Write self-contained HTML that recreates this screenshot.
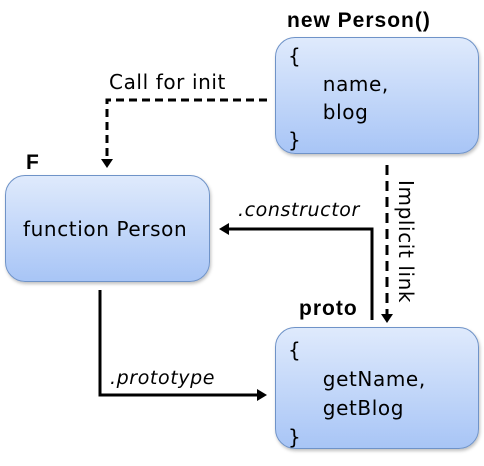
<!DOCTYPE html>
<html><head><style>
body{margin:0;width:484px;height:466px;background:#fff;font-family:"DejaVu Sans","Liberation Sans",sans-serif;overflow:hidden}
.box{position:absolute;box-sizing:border-box;border:1.5px solid #6f93c8;border-radius:20px;background:linear-gradient(#dfeafc,#a8c5f6);box-shadow:1px 2px 3px rgba(0,0,0,.25);font-size:20px;color:#000}
.t{position:absolute;font-size:20px;white-space:nowrap;letter-spacing:0.6px}
.b{font-weight:bold;font-family:"Liberation Sans",sans-serif;font-size:21px;letter-spacing:1px}
</style></head><body>
<svg width="484" height="466" style="position:absolute;left:0;top:0">
<g stroke="#000" stroke-width="3" fill="none">
<path d="M267 100 H107 V160" stroke-dasharray="8,5"/>
<path d="M387 165 V318" stroke-dasharray="10,6"/>
<path d="M372 320 V229 H228"/>
<path d="M100 290 V395 H258"/>
</g>
<g fill="#000">
<polygon points="101,159 113,159 107,168"/>
<polygon points="381,314 393,314 387,323"/>
<polygon points="229,223 229,235 219,229"/>
<polygon points="257,389 257,401 267,395"/>
</g>
</svg>
<div class="t b" style="left:287px;top:9px">new Person()</div>
<div class="box" style="left:275px;top:37px;width:204px;height:117px"></div>
<div class="t" style="left:288px;top:42px;line-height:28px">{<br>&nbsp;&nbsp;&nbsp;&nbsp;&nbsp;name,<br>&nbsp;&nbsp;&nbsp;&nbsp;&nbsp;blog<br>}</div>
<div class="t" style="left:109px;top:70px">Call for init</div>
<div class="t b" style="left:26px;top:151px">F</div>
<div class="box" style="left:5px;top:175px;width:205px;height:107px"></div>
<div class="t" style="left:23px;top:217px">function Person</div>
<div class="t" style="left:238px;top:199px;font-style:italic;font-size:19px">.constructor</div>
<div class="t" style="left:388px;top:180px;transform-origin:0 0;transform:rotate(90deg) translate(0,-30px)">Implicit link</div>
<div class="t b" style="left:299px;top:297px">proto</div>
<div class="box" style="left:275px;top:327px;width:204px;height:122px"></div>
<div class="t" style="left:288px;top:336px;line-height:29px">{<br>&nbsp;&nbsp;&nbsp;&nbsp;&nbsp;getName,<br>&nbsp;&nbsp;&nbsp;&nbsp;&nbsp;getBlog<br>}</div>
<div class="t" style="left:110px;top:367px;font-style:italic;font-size:19px">.prototype</div>
</body></html>
